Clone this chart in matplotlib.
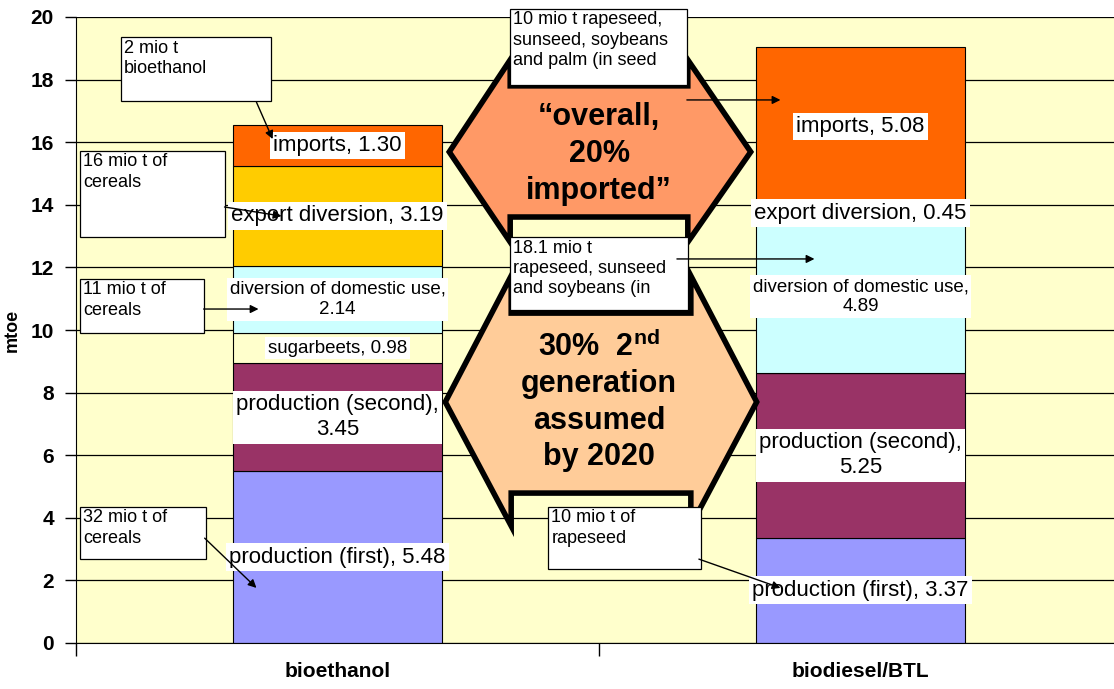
import numpy as np
import matplotlib
matplotlib.use('Agg')
import matplotlib.pyplot as plt
from matplotlib.patches import Polygon, Rectangle

plt.rcParams['font.family'] = ['Liberation Sans', 'DejaVu Sans']
plt.rcParams['mathtext.fontset'] = 'custom'
plt.rcParams['mathtext.rm'] = 'Liberation Sans'
plt.rcParams['mathtext.bf'] = 'Liberation Sans:bold'

# data (mtoe)
categories = ['bioethanol', 'biodiesel/BTL']
prod_first = [5.48, 3.37]
prod_second = [3.45, 5.25]
sugarbeets = [0.98, 0.0]
div_domestic = [2.14, 4.89]
export_div = [3.19, 0.45]
imports = [1.30, 5.08]

series = [prod_first, prod_second, sugarbeets, div_domestic, export_div, imports]
names = ['production (first)', 'production (second)', 'sugarbeets',
         'diversion of domestic use', 'export diversion', 'imports']
seps = [', ', ',\n', ', ', ',\n', ', ', ', ']
colors = ['#9999FF', '#993366', '#FFFFCC', '#CCFFFF', '#FFCC00', '#FF6600']
label_sizes = [16, 16, 13.5, 13.5, 16, 16]

fig = plt.figure(figsize=(11.14, 6.89), dpi=100)
ax = fig.add_axes([76/1114, 1-643/689, (1122-76)/1114, (643-17)/689])
ax.set_facecolor('#FFFFCC')

x = np.arange(len(categories))
bottom = np.zeros(len(categories))
for vals, name, sep, col, fs in zip(series, names, seps, colors, label_sizes):
    vals = np.array(vals)
    ax.bar(x, vals, 0.4, bottom=bottom, color=col, edgecolor='black', linewidth=0.8, zorder=2)
    for xi, v, b in zip(x, vals, bottom):
        if v > 0:
            ax.text(xi, b + v/2, f'{name}{sep}{v:.2f}', ha='center', va='center',
                    fontsize=fs, linespacing=1.25, zorder=3,
                    bbox=dict(boxstyle='square,pad=0.15', fc='white', ec='none'))
    bottom += vals

ax.set_xlim(-0.5, 1.5)
ax.set_ylim(0, 20)
ax.set_yticks(range(0, 21, 2))
ax.set_xticks([-0.5, 0.5, 1.5])
ax.set_xticklabels([])
ax.set_xticks(x, minor=True)
ax.set_xticklabels(categories, minor=True, fontsize=15, fontweight='bold')
ax.tick_params(axis='x', which='major', length=9, direction='out', width=1)
ax.tick_params(axis='x', which='minor', length=0, pad=14)
ax.tick_params(axis='y', length=8, width=1, pad=8, labelsize=15)
for t in ax.get_yticklabels():
    t.set_fontweight('bold')
ax.yaxis.grid(True, color='black', lw=0.9)
ax.set_axisbelow(True)
for s in ['top', 'right']:
    ax.spines[s].set_visible(False)
ax.set_ylabel('mtoe', fontsize=13, fontweight='bold')
ax.yaxis.set_label_coords(-0.053, 0.5)

# hexagon callouts (notched where the text boxes sit)
hex1 = [(0.2137, 15.69), (0.3302, 18.63), (0.3302, 17.80), (0.6698, 17.80), (0.6698, 18.63),
        (0.7901, 15.69), (0.6698, 12.81), (0.6698, 13.61), (0.3302, 13.61), (0.3302, 12.81)]
hex2 = [(0.2061, 7.70), (0.3321, 11.73), (0.3321, 10.54), (0.6756, 10.54), (0.6756, 11.73),
        (0.8015, 7.70), (0.6756, 3.74), (0.6756, 4.79), (0.3321, 4.79), (0.3321, 3.74)]

# annotation boxes: (x0, y0, x1, y1, text)
boxes = [
    (-0.414, 17.32, -0.128, 19.36, '2 mio t\nbioethanol'),
    (-0.492, 12.97, -0.216, 15.72, '16 mio t of\ncereals'),
    (-0.492, 9.90, -0.256, 11.63, '11 mio t of\ncereals'),
    (-0.492, 2.68, -0.252, 4.35, '32 mio t of\ncereals'),
    (0.330, 17.83, 0.668, 20.26, '10 mio t rapeseed,\nsunseed, soybeans\nand palm (in seed'),
    (0.330, 10.64, 0.670, 12.97, '18.1 mio t\nrapeseed, sunseed\nand soybeans (in'),
    (0.403, 2.36, 0.695, 4.35, '10 mio t of\nrapeseed'),
]
arrows = [
    ((-0.155, 17.28), (-0.124, 16.10)),
    ((-0.216, 13.93), (-0.107, 13.64)),
    ((-0.256, 10.67), (-0.151, 10.67)),
    ((-0.254, 3.35), (-0.155, 1.76)),
    ((0.668, 17.35), (0.847, 17.35)),
    ((0.649, 12.27), (0.912, 12.27)),
    ((0.691, 2.68), (0.847, 1.76)),
]

ax.add_patch(Polygon(hex1, closed=True, fc='#FF9966', ec='black', lw=4, joinstyle='miter', zorder=4))
ax.add_patch(Polygon(hex2, closed=True, fc='#FFCC99', ec='black', lw=4, joinstyle='miter', zorder=4))
ax.text(0.5, 15.62, '\u201coverall,\n20%\nimported\u201d', ha='center', va='center',
        fontsize=22, fontweight='bold', linespacing=1.3, zorder=5)
ax.text(0.5, 7.72, '30%  2$^{\\mathbf{nd}}$\ngeneration\nassumed\nby 2020', ha='center', va='center',
        fontsize=22, fontweight='bold', linespacing=1.28, zorder=5)

for x0, y0, x1, y1, txt in boxes:
    ax.add_patch(Rectangle((x0, y0), x1 - x0, y1 - y0, fc='white', ec='black', lw=0.9,
                           zorder=6, clip_on=False))
    ax.text(x0 + 0.006, y1 - 0.08, txt, ha='left', va='top', fontsize=13,
            linespacing=1.25, zorder=7, clip_on=False)

for start, end in arrows:
    ax.annotate('', xy=end, xytext=start, zorder=8, annotation_clip=False,
                arrowprops=dict(arrowstyle='-|>', color='black', lw=1, shrinkA=0, shrinkB=0,
                                mutation_scale=12))

fig.savefig('out.png', dpi=100)
